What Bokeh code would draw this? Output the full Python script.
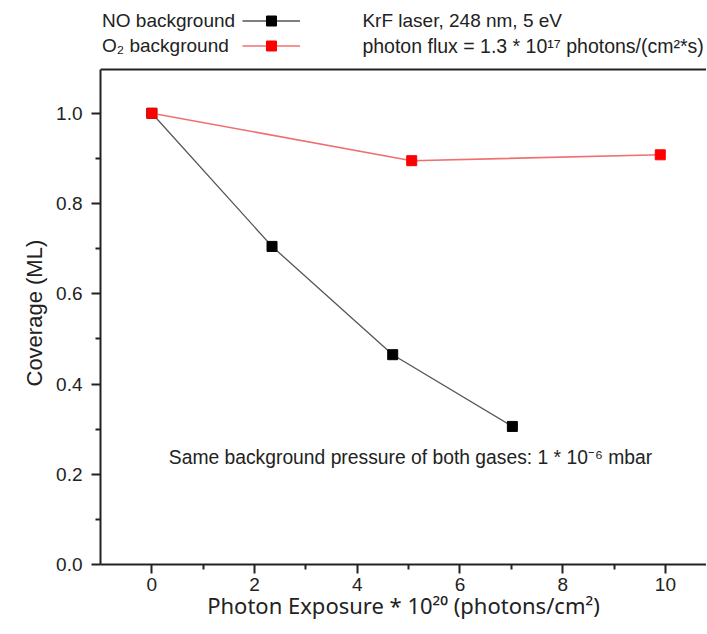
from bokeh.plotting import figure
from bokeh.models import (FixedTicker, NumeralTickFormatter, Label, Span,
                          Legend, LegendItem, Range1d, Title)
from bokeh.embed import file_html
from bokeh.resources import INLINE

# ---- data ----
no_x = [0.0, 2.34, 4.69, 7.02]
no_y = [1.0, 0.705, 0.465, 0.306]
o2_x = [0.0, 5.06, 9.90]
o2_y = [1.0, 0.895, 0.908]

x_ticks = [0, 2, 4, 6, 8, 10]
x_minor = [1, 3, 5, 7, 9]
y_ticks = [0.0, 0.2, 0.4, 0.6, 0.8, 1.0]
y_minor = [0.1, 0.3, 0.5, 0.7, 0.9]
y_top = 1.097

FONT = "Liberation Sans"
SUPFONT = "Noto Sans"
INK = "#222222"

p = figure(width=706, height=633, output_backend="svg", toolbar_location=None,
           x_range=Range1d(-1.0, 10.8), y_range=Range1d(0.0, 1.25),
           min_border_left=100, min_border_right=0, min_border_top=0,
           min_border_bottom=69)
p.outline_line_color = None
p.xgrid.visible = False
p.ygrid.visible = False

for ax in (p.xaxis[0], p.yaxis[0]):
    ax.axis_line_width = 2
    ax.axis_line_color = INK
    ax.major_tick_line_width = 2
    ax.minor_tick_line_width = 2
    ax.major_tick_line_color = INK
    ax.minor_tick_line_color = INK
    ax.major_tick_in = 0
    ax.major_tick_out = 9
    ax.minor_tick_in = 0
    ax.minor_tick_out = 5
    ax.major_label_text_font = FONT
    ax.major_label_text_font_size = "19px"
    ax.major_label_text_color = INK

p.xaxis[0].ticker = FixedTicker(ticks=x_ticks, minor_ticks=x_minor)
p.yaxis[0].ticker = FixedTicker(ticks=y_ticks, minor_ticks=y_minor)
p.yaxis[0].bounds = (0.0, y_top)
p.yaxis[0].formatter = NumeralTickFormatter(format="0.0")
p.xaxis[0].major_label_standoff = 4
p.yaxis[0].major_label_standoff = 9
p.xaxis[0].axis_label = "Photon Exposure * 10²⁰ (photons/cm²)"
p.xaxis[0].axis_label_text_font = SUPFONT
p.xaxis[0].axis_label_text_font_size = "22px"
p.xaxis[0].axis_label_text_font_style = "normal"
p.xaxis[0].axis_label_text_color = INK
p.xaxis[0].axis_label_standoff = -4

ytitle = Title(text="Coverage (ML)", align="left", offset=178,
               text_font=FONT, text_font_size="22px",
               text_font_style="normal", text_color=INK, standoff=14)
p.add_layout(ytitle, "left")

p.add_layout(Span(location=y_top, dimension="width", line_color=INK,
                  line_width=2))

# ---- series ----
l_no = p.line(no_x, no_y, line_color="#555555", line_width=1.3)
s_no = p.scatter(no_x, no_y, marker="square", size=10, fill_color="black",
                 line_color="black")
l_o2 = p.line(o2_x, o2_y, line_color="#f07070", line_width=1.6)
s_o2 = p.scatter(o2_x, o2_y, marker="square", size=10, fill_color="#ff0000",
                 line_color="#ff0000")

legend = Legend(items=[LegendItem(label=" ", renderers=[l_no, s_no]),
                       LegendItem(label=" ", renderers=[l_o2, s_o2])],
                location=(142, 506), glyph_width=58, glyph_height=25,
                label_height=25, spacing=0, padding=0, margin=0,
                label_standoff=0, border_line_color=None,
                background_fill_alpha=0, label_text_font_size="4px")
p.add_layout(legend, "center")

def txt(x, y, s, size="19px", font=FONT):
    p.add_layout(Label(x=x, y=y, text=s, text_font=font, text_font_size=size,
                       text_color=INK, text_baseline="middle",
                       text_align="left"))

txt(-0.97, 1.206, "NO background")
txt(-0.97, 1.150, "O₂ background")
txt(4.10, 1.206, "KrF laser, 248 nm, 5 eV")
txt(4.10, 1.150, "photon flux = 1.3 * 10¹⁷ photons/(cm²*s)", "19.5px")
txt(0.33, 0.237, "Same background pressure of both gases: 1 * 10⁻⁶ mbar", "19.3px")

open("out.html", "w").write(file_html(p, INLINE))
